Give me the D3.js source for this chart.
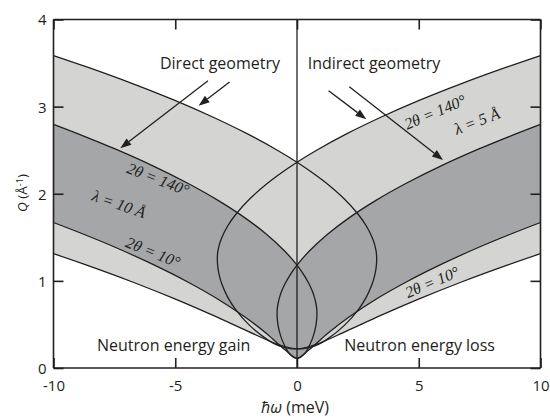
<!DOCTYPE html>
<html>
<head>
<meta charset="utf-8">
<script src="https://cdn.jsdelivr.net/npm/d3@7"></script>
<style>
  html, body { margin: 0; padding: 0; background: #fff; }
  svg { display: block; }
  .sans { font-family: "Open Sans", "Noto Sans", sans-serif; fill: #231f20; }
  .serif { font-family: "Liberation Serif", "DejaVu Serif", serif; font-style: italic; fill: #231f20; }
</style>
</head>
<body>
<svg id="chart" width="550" height="418"></svg>
<script>
// ---------- data ----------
// Direct geometry, lambda = 10 Å (Ei fixed): energy transfer (meV) and Q (1/Å)
const directHw10  = [-10, -8.760, -7.470, -5.896, -4.487, -3.243, -2.166, -1.254, -0.508, 0, 0.300, 0.486, 0.632, 0.713, 0.771, 0.797, 0.813, 0.818];
const directQ140_10 = [2.796, 2.662, 2.514, 2.317, 2.120, 1.924, 1.729, 1.535, 1.343, 1.181, 1.061, 0.969, 0.880, 0.814, 0.749, 0.708, 0.667, 0.628];
const directQ10_10  = [1.670, 1.535, 1.386, 1.186, 0.987, 0.789, 0.591, 0.397, 0.212, 0.110, 0.161, 0.244, 0.337, 0.409, 0.481, 0.530, 0.579, 0.628];

// Direct geometry, lambda = 5 Å
const directHw5  = [-10, -8.663, -6.757, -5.016, -3.441, -2.032, -0.789, 0, 0.765, 1.200, 1.946, 2.526, 2.853, 3.086, 3.189, 3.252, 3.272];
const directQ140_5 = [3.586, 3.458, 3.264, 3.071, 2.878, 2.687, 2.497, 2.362, 2.215, 2.122, 1.939, 1.759, 1.627, 1.499, 1.416, 1.335, 1.257];
const directQ10_5  = [1.312, 1.183, 0.987, 0.793, 0.603, 0.423, 0.272, 0.219, 0.258, 0.323, 0.489, 0.674, 0.817, 0.963, 1.060, 1.158, 1.257];

// Indirect geometry, lambda = 10 Å (Ef fixed)
const indirectHw10  = [10, 8.760, 7.470, 5.896, 4.487, 3.243, 2.166, 1.254, 0.508, 0, -0.300, -0.486, -0.632, -0.713, -0.771, -0.797, -0.813, -0.818];
const indirectQ140_10 = [2.796, 2.662, 2.514, 2.317, 2.120, 1.924, 1.729, 1.535, 1.343, 1.181, 1.061, 0.969, 0.880, 0.814, 0.749, 0.708, 0.667, 0.628];
const indirectQ10_10  = [1.670, 1.535, 1.386, 1.186, 0.987, 0.789, 0.591, 0.397, 0.212, 0.110, 0.161, 0.244, 0.337, 0.409, 0.481, 0.530, 0.579, 0.628];

// Indirect geometry, lambda = 5 Å
const indirectHw5  = [10, 8.663, 6.757, 5.016, 3.441, 2.032, 0.789, 0, -0.765, -1.200, -1.946, -2.526, -2.853, -3.086, -3.189, -3.252, -3.272];
const indirectQ140_5 = [3.586, 3.458, 3.264, 3.071, 2.878, 2.687, 2.497, 2.362, 2.215, 2.122, 1.939, 1.759, 1.627, 1.499, 1.416, 1.335, 1.257];
const indirectQ10_5  = [1.312, 1.183, 0.987, 0.793, 0.603, 0.423, 0.272, 0.219, 0.258, 0.323, 0.489, 0.674, 0.817, 0.963, 1.060, 1.158, 1.257];

const xTicks = [-10, -5, 0, 5, 10];
const yTicks = [0, 1, 2, 3, 4];
const xTickLabels = ["-10", "-5", "0", "5", "10"];
const yTickLabels = ["0", "1", "2", "3", "4"];

// Arrow annotations [x0, y0, x1, y1] in data units
const directArrows   = [[-3.655, 3.298, -7.257, 2.522], [-2.768, 3.283, -4.041, 3.011]];
const indirectArrows = [[1.298, 3.183, 2.846, 2.855], [2.148, 3.229, 5.996, 2.387]];

// ---------- layout ----------
const svg = d3.select("#chart");
const mLeft = 53.5, mRight = 540.5, mTop = 19.5, mBottom = 368;
const x = d3.scaleLinear().domain([-10, 10]).range([mLeft, mRight]);
const y = d3.scaleLinear().domain([0, 4]).range([mBottom, mTop]);
const ink = "#231f20";
const lightFill = "#d4d5d3";
const darkFill = "#a4a6a7";

svg.append("defs").append("clipPath").attr("id", "plotclip")
  .append("rect").attr("x", mLeft).attr("y", mTop).attr("width", mRight - mLeft).attr("height", mBottom - mTop);

const plot = svg.append("g").attr("clip-path", "url(#plotclip)");

function pts(hw, q) { return hw.map((h, i) => [h, q[i]]); }
// outline: 140° branch out to the end point, then 10° branch back
function outline(hw, qHigh, qLow) {
  return pts(hw, qHigh).concat(pts(hw, qLow).reverse().slice(1));
}
const line = d3.line().x(d => x(d[0])).y(d => y(d[1])).curve(d3.curveCatmullRom.alpha(0.5));

const regions5 = [outline(directHw5, directQ140_5, directQ10_5), outline(indirectHw5, indirectQ140_5, indirectQ10_5)];
const regions10 = [outline(directHw10, directQ140_10, directQ10_10), outline(indirectHw10, indirectQ140_10, indirectQ10_10)];

plot.selectAll("path.light").data(regions5).join("path").attr("class", "light")
  .attr("d", d => line(d) + "Z").attr("fill", lightFill).attr("stroke", "none");
plot.selectAll("path.dark").data(regions10).join("path").attr("class", "dark")
  .attr("d", d => line(d) + "Z").attr("fill", darkFill).attr("stroke", "none");

plot.selectAll("path.curve").data(regions5.concat(regions10)).join("path").attr("class", "curve")
  .attr("d", d => line(d)).attr("fill", "none").attr("stroke", ink).attr("stroke-width", 1.3);

// vertical line at zero energy transfer
plot.append("line").attr("x1", x(0)).attr("x2", x(0)).attr("y1", y(0)).attr("y2", y(4))
  .attr("stroke", ink).attr("stroke-width", 1.3);

// ---------- axes (box with inward ticks) ----------
const tickLen = 10;
const axB = svg.append("g").attr("transform", `translate(0,${mBottom})`)
  .call(d3.axisBottom(x).tickValues(xTicks).tickSize(-tickLen).tickFormat((d, i) => xTickLabels[i]).tickPadding(12));
const axT = svg.append("g").attr("transform", `translate(0,${mTop})`)
  .call(d3.axisTop(x).tickValues(xTicks).tickSize(-tickLen).tickFormat(""));
const axL = svg.append("g").attr("transform", `translate(${mLeft},0)`)
  .call(d3.axisLeft(y).tickValues(yTicks).tickSize(-tickLen).tickFormat((d, i) => yTickLabels[i]).tickPadding(7));
const axR = svg.append("g").attr("transform", `translate(${mRight},0)`)
  .call(d3.axisRight(y).tickValues(yTicks).tickSize(-tickLen).tickFormat(""));
[axB, axT, axL, axR].forEach(a => {
  a.selectAll(".domain").attr("stroke", ink).attr("stroke-width", 1.6);
  a.selectAll(".tick line").attr("stroke", ink).attr("stroke-width", 1.6);
  a.selectAll("text").attr("font-size", 15).style("font-family", '"Open Sans", sans-serif').attr("fill", ink);
});
axB.selectAll(".domain").attr("d", `M${mLeft},0H${mRight}`);
axT.selectAll(".domain").attr("d", `M${mLeft},0H${mRight}`);
axL.selectAll(".domain").attr("d", `M0,${mBottom}V${mTop}`);
axR.selectAll(".domain").attr("d", `M0,${mBottom}V${mTop}`);
axL.selectAll("text").attr("dy", "0.36em");

// axis titles
const xt = svg.append("text").attr("class", "sans").attr("x", 295).attr("y", 413)
  .attr("text-anchor", "middle").attr("font-size", 16);
xt.append("tspan").attr("font-style", "italic").text("ħω");
xt.append("tspan").text(" (meV)");

const yt = svg.append("text").attr("class", "sans").attr("font-size", 13.5)
  .attr("text-anchor", "middle").attr("transform", "translate(27,193) rotate(-90)");
yt.append("tspan").attr("font-style", "italic").text("Q");
yt.append("tspan").text(" (Å");
yt.append("tspan").attr("font-size", 9).attr("dy", "-0.5em").text("-1");
yt.append("tspan").attr("dy", "0.35em").text(")");

// ---------- annotations ----------
function arrow(a) {
  const x0 = x(a[0]), y0 = y(a[1]), x1 = x(a[2]), y1 = y(a[3]);
  const ang = Math.atan2(y1 - y0, x1 - x0);
  const L = 11, W = 4;
  const bx = x1 - L * Math.cos(ang), by = y1 - L * Math.sin(ang);
  svg.append("line").attr("x1", x0).attr("y1", y0).attr("x2", bx).attr("y2", by)
    .attr("stroke", ink).attr("stroke-width", 1.3);
  const p1 = [bx + W * Math.sin(ang), by - W * Math.cos(ang)];
  const p2 = [bx - W * Math.sin(ang), by + W * Math.cos(ang)];
  svg.append("path").attr("d", `M${x1},${y1}L${p1[0]},${p1[1]}L${p2[0]},${p2[1]}Z`).attr("fill", ink);
}
directArrows.forEach(arrow);
indirectArrows.forEach(arrow);

svg.append("text").attr("class", "sans").attr("x", 220).attr("y", 69).attr("text-anchor", "middle")
  .attr("font-size", 16).text("Direct geometry");
svg.append("text").attr("class", "sans").attr("x", 374).attr("y", 69).attr("text-anchor", "middle")
  .attr("font-size", 16).text("Indirect geometry");
svg.append("text").attr("class", "sans").attr("x", 97).attr("y", 351).attr("text-anchor", "start")
  .attr("font-size", 16).text("Neutron energy gain");
svg.append("text").attr("class", "sans").attr("x", 495).attr("y", 351).attr("text-anchor", "end")
  .attr("font-size", 16).text("Neutron energy loss");

function curveLabel(txt, cx, cy, rot) {
  svg.append("text").attr("class", "serif").attr("font-size", 16)
    .attr("text-anchor", "middle").attr("dominant-baseline", "central")
    .attr("transform", `translate(${cx},${cy}) rotate(${rot})`).text(txt);
}
curveLabel("2θ = 140°", 158, 179, 21);
curveLabel("λ = 10 Å", 119, 204, 19);
curveLabel("2θ = 10°", 153, 252, 22);
curveLabel("2θ = 140°", 435, 112, -23);
curveLabel("λ = 5 Å", 477, 121, -21);
curveLabel("2θ = 10°", 432, 282, -23);
</script>
</body>
</html>
